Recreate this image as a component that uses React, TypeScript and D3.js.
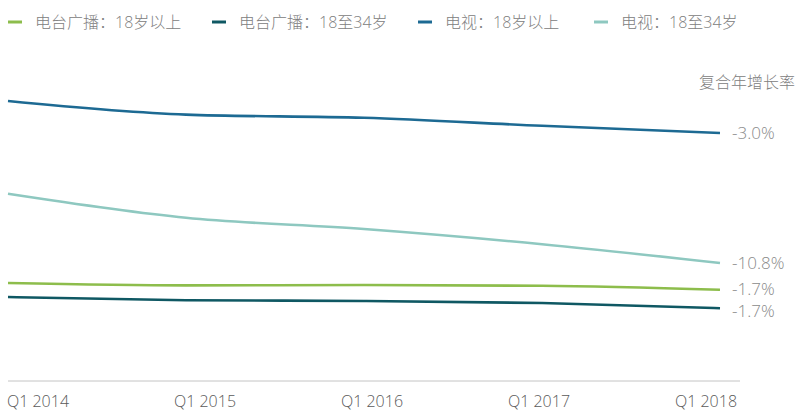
import React, { useEffect, useRef } from "react";
import * as d3 from "d3";

// Weekly hours (est.), Q1 of each year
const quarters = ["Q1 2014", "Q1 2015", "Q1 2016", "Q1 2017", "Q1 2018"];
const tv18plus = [35.0, 33.3, 32.9, 31.9, 31.0];
const tv18to34 = [23.4, 20.4, 19.0, 17.1, 14.75];
const radio18plus = [12.25, 11.95, 12.0, 11.9, 11.4];
const radio18to34 = [10.5, 10.1, 10.0, 9.75, 9.1];

const seriesNames = ["电台广播：18岁以上", "电台广播：18至34岁", "电视：18岁以上", "电视：18至34岁"];
const cagrLabels = ["-1.7%", "-1.7%", "-3.0%", "-10.8%"];
const colors = ["#8dbd4c", "#0f5863", "#1d6a93", "#8ec8c0"];

const W = 800;
const H = 411;
const FONT = "'Open Sans', 'Noto Sans CJK SC', sans-serif";

const App = () => {
  const svgRef = useRef<SVGSVGElement | null>(null);

  useEffect(() => {
    if (!svgRef.current) return;
    const svg = d3.select(svgRef.current);
    svg.selectAll("*").remove();

    const allSeries = [radio18plus, radio18to34, tv18plus, tv18to34];

    const x = d3.scalePoint<string>().domain(quarters).range([8, 720]);
    const xLabel = d3.scalePoint<string>().domain(quarters).range([38, 706]);
    const y = d3.scaleLinear().domain([0, 35]).range([381, 101]);

    // Legend
    const legendX = [8, 212, 418, 594];
    seriesNames.forEach((name, i) => {
      const g = svg.append("g").attr("transform", `translate(${legendX[i]},22)`);
      g.append("line")
        .attr("x1", 0).attr("x2", 14)
        .attr("y1", 0).attr("y2", 0)
        .attr("stroke", colors[i]).attr("stroke-width", 3);
      g.append("text")
        .attr("x", 27).attr("y", 0)
        .attr("dy", "0.36em")
        .attr("fill", "#808080")
        .attr("font-size", "16px")
        .attr("font-weight", 300)
        .attr("font-family", FONT)
        .text(name);
    });

    // Axis baseline
    svg.append("line")
      .attr("x1", 8).attr("x2", 740)
      .attr("y1", 381).attr("y2", 381)
      .attr("stroke", "#c4c4c4").attr("stroke-width", 1);

    // X labels
    svg.selectAll(".xlab")
      .data(quarters)
      .enter()
      .append("text")
      .attr("x", d => xLabel(d) as number)
      .attr("y", 407)
      .attr("text-anchor", "middle")
      .attr("fill", "#5a5a5a")
      .attr("font-size", "16px")
      .attr("font-weight", 300)
      .attr("font-family", FONT)
      .text(d => d);

    const line = d3.line<number>()
      .x((_, i) => x(quarters[i]) as number)
      .y(d => y(d))
      .curve(d3.curveMonotoneX);

    allSeries.forEach((vals, i) => {
      svg.append("path")
        .datum(vals)
        .attr("d", line)
        .attr("fill", "none")
        .attr("stroke", colors[i])
        .attr("stroke-width", 2.6);
    });

    // CAGR header
    svg.append("text")
      .attr("x", 795).attr("y", 82)
      .attr("dy", "0.36em")
      .attr("text-anchor", "end")
      .attr("fill", "#808080")
      .attr("font-size", "16px")
      .attr("font-weight", 300)
      .attr("font-family", FONT)
      .text("复合年增长率");

    // End labels, nudged so the two radio labels don't overlap
    const ends = allSeries.map((vals, i) => ({ y: y(vals[vals.length - 1]), label: cagrLabels[i] }));
    ends[0].y -= 0.5;
    ends[1].y += 3;
    ends.forEach(d => {
      svg.append("text")
        .attr("x", 732).attr("y", d.y)
        .attr("dy", "0.36em")
        .attr("fill", "#8a8a8a")
        .attr("font-size", "17px")
        .attr("font-weight", 300)
        .attr("font-family", FONT)
        .text(d.label);
    });
  }, []);

  return <svg ref={svgRef} width={W} height={H} style={{ display: "block", position: "absolute", left: 0, top: 0, background: "#fff" }} />;
};

export default App;
